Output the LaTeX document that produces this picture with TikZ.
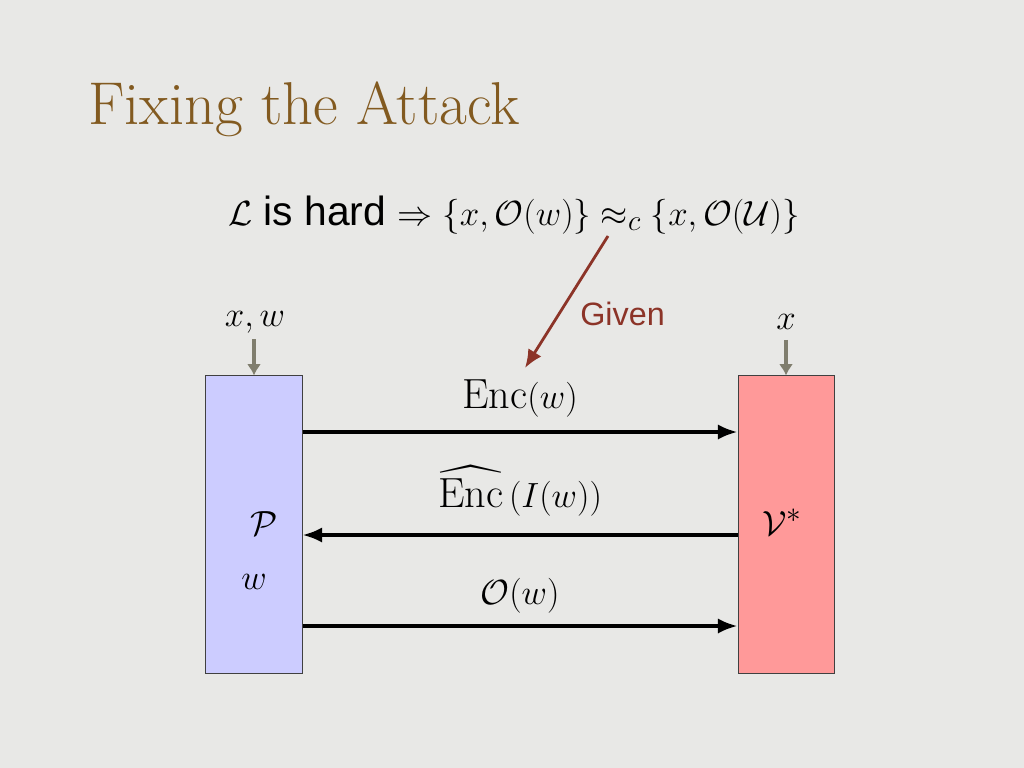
\documentclass[tikz,border=0pt]{standalone}
\usepackage{amsmath}
\usepackage{amssymb}
\usepackage{fontspec}
\newfontfamily\slidesans{Liberation Sans}
\usetikzlibrary{arrows.meta}
\definecolor{slidebg}{RGB}{232,232,230}
\definecolor{titlebrown}{RGB}{130,90,32}
\definecolor{givenred}{RGB}{140,52,40}
\definecolor{feedgray}{RGB}{128,126,110}
\definecolor{proverblue}{RGB}{204,204,255}
\definecolor{verifierred}{RGB}{255,153,153}
\tikzset{
	>=Latex,
	party/.style={draw=black!75, line width=0.7pt, minimum width=2.4cm, minimum height=7.425cm, inner sep=0pt},
	msg/.style={line width=2.6pt, -{Latex[length=14pt,width=11pt]}},
	feed/.style={line width=2.2pt, draw=feedgray, -{Latex[length=8pt,width=10pt]}},
	given/.style={line width=2pt, draw=givenred, -{Latex[length=13pt,width=11pt]}},
	big/.style={font=\fontsize{30}{36}\selectfont, inner sep=0pt}
}
\begin{document}
\begin{tikzpicture}[x=0.025cm, y=-0.025cm]
			\fill [slidebg] (0,0) rectangle (1024,768);
			\useasboundingbox (0,0) rectangle (1024,768);
			\node [anchor=base west, text=titlebrown, font=\fontsize{43}{50}\selectfont, inner sep=0pt] (title) at (88,125) {Fixing the Attack};
			\node [anchor=base, font=\fontsize{29}{34}\selectfont, inner sep=0pt] (claim) at (514,225) {\slidesans $\mathcal{L}$ is hard $\Rightarrow \{x,\mathcal{O}(w)\}\approx_{c}\{x,\mathcal{O}(\mathcal{U})\}$};
			% the two parties
			\node [party, fill=proverblue] (P) at (254,524.5) {};
			\node [party, fill=verifierred] (V) at (786,524.5) {};
			\node [big] (Pname) at (264,524) {$\mathcal{P}$};
			\node [big] (Pwit) at (254,582) {$w$};
			\node [big] (Vname) at (782,522) {$\mathcal{V}^{*}$};
			% inputs
			\node [big] (inP) at (255,322) {$x,w$};
			\node [big] (inV) at (786,322) {$x$};
			\draw [feed] (P.north |- inP.south) ++(0,6) -- (P.north);
			\draw [feed] (inV.south) ++(0,10) -- (V.north);
			% messages
			\draw [msg] (P.east |- 0,432) -- (V.west |- 0,432) node[pos=0.5, above=9pt, big] {$\mathrm{Enc}(w)$};
			\draw [msg] (V.west |- 0,535) -- (P.east |- 0,535) node[pos=0.5, above=12pt, big] {$\widehat{\mathrm{Enc}}\,(I(w))$};
			\draw [msg] (P.east |- 0,626) -- (V.west |- 0,626) node[pos=0.5, above=8pt, big] {$\mathcal{O}(w)$};
			% the assumption is handed to the simulator
			\coordinate (givenfrom) at (608,236);
			\coordinate (givento) at (525,368);
			\draw [given] (givenfrom) -- (givento);
			\node [anchor=base west, text=givenred, font=\fontsize{23}{28}\selectfont\slidesans, inner sep=0pt] (givenlabel) at (580,325) {Given};
		\end{tikzpicture}
\end{document}
